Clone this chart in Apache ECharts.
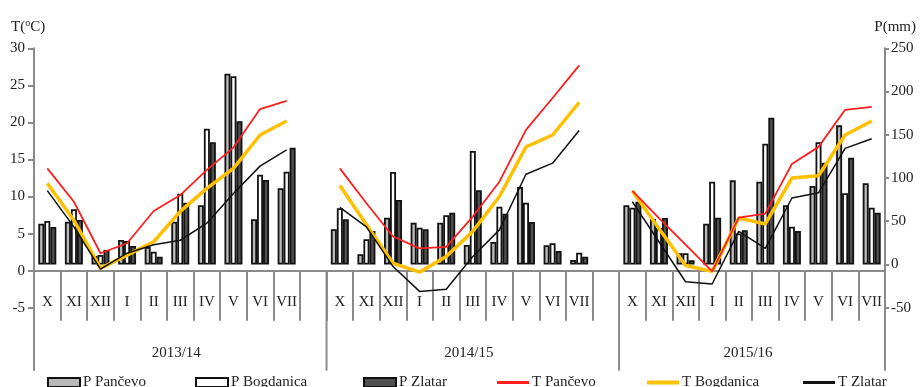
<!DOCTYPE html>
<html>
<head>
<meta charset="utf-8">
<script src="https://cdn.jsdelivr.net/npm/echarts@6/dist/echarts.min.js"></script>
<style>
  html, body { margin: 0; padding: 0; background: #fff; }
  #chart { width: 922px; height: 387px; }
</style>
</head>
<body>
<div id="chart"></div>
<script>
// Months of each hydrological season (October - July); an empty slot separates seasons
const months = ['X', 'XI', 'XII', 'I', 'II', 'III', 'IV', 'V', 'VI', 'VII'];
const categories = [...months, '', ...months, '', ...months];
const seasons = ['2013/14', '2014/15', '2015/16'];

// Monthly precipitation, mm (null = separator slot)
const pPancevo   = [47.2, 49.5, 9.8, 28.3, 20.2, 49.5, 68.4, 220.6, 52.3, 88.1, null,
                    40.7, 11.8, 54.1, 48.3, 48.3, 22.5, 26.0, 89.6, 22.2, 5.2, null,
                    68.4, 52.6, 12.9, 47.2, 97.3, 95.7, 68.4, 90.8, 160.9, 93.9];
const pBogdanica = [50.3, 63.8, 11.0, 27.2, 14.8, 81.8, 157.0, 217.6, 103.8, 107.3, null,
                    65.0, 29.1, 106.9, 42.5, 56.9, 131.2, 66.8, 71.4, 24.5, 13.6, null,
                    65.7, 42.2, 12.9, 95.7, 35.8, 139.7, 43.7, 141.3, 82.3, 65.7];
const pZlatar    = [43.4, 51.4, 16.8, 21.4, 9.0, 71.4, 141.3, 165.5, 97.7, 135.0, null,
                    52.3, 38.7, 74.6, 40.7, 59.9, 85.8, 58.7, 49.1, 15.6, 9.0, null,
                    72.6, 53.8, 4.9, 54.1, 39.5, 169.7, 38.7, 117.7, 123.5, 59.9];

// Mean monthly air temperature, °C
const tPancevo   = [13.8, 9.3, 2.35, 3.7, 8.05, 10.2, 13.6, 16.6, 21.8, 22.9, null,
                    13.8, 9.1, 4.6, 3.0, 3.2, 7.3, 12.0, 19.0, 23.3, 27.7, null,
                    10.75, 7.1, 3.5, -0.1, 7.15, 7.7, 14.4, 16.7, 21.7, 22.1];
const tBogdanica = [11.8, 6.8, 0.3, 2.1, 3.9, 8.0, 11.1, 13.8, 18.3, 20.2, null,
                    11.5, 6.2, 1.0, -0.2, 1.9, 5.3, 10.0, 16.7, 18.3, 22.7, null,
                    10.75, 5.7, 0.7, -0.1, 7.1, 6.3, 12.5, 12.8, 18.3, 20.2];
const tZlatar    = [10.8, 5.9, 0.2, 2.35, 3.5, 4.1, 6.4, 10.4, 14.1, 16.3, null,
                    8.55, 5.9, 0.55, -2.8, -2.5, 1.9, 5.5, 13.0, 14.5, 18.9, null,
                    9.3, 3.9, -1.5, -1.8, 5.3, 3.0, 9.8, 10.5, 16.5, 17.8];

// Axis scales
const tAxis = { min: -5, max: 30, step: 5 };
const pAxis = { min: -50, max: 250, step: 50 };

const FONT = 'Liberation Serif, Times New Roman, serif';
const TEXT = '#222';
const AXIS = '#8a8a8a';

const chart = echarts.init(document.getElementById('chart'), null, { renderer: 'canvas' });

const barStyle = (color) => ({ color: color, borderColor: '#111', borderWidth: 1.8 });

// Legend entries: bar swatches are boxes, temperature entries are short strokes
const legendNames = ['P Pančevo', 'P Bogdanica', 'P Zlatar', 'T Pančevo', 'T Bogdanica', 'T Zlatar'];
const legendLeft = [42, 190, 358, 492, 642, 798];
const legendIconH = [9, 9, 9, 3, 4, 3];

const option = {
  animation: false,
  backgroundColor: '#fff',
  textStyle: { fontFamily: FONT },
  grid: { left: 34, right: 37, top: 48.3, bottom: 79.3, containLabel: false },
  title: [
    {
      text: 'T({sup|o}C)', left: 6, top: 13,
      textStyle: {
        fontFamily: FONT, fontSize: 15, fontWeight: 'normal', color: TEXT, lineHeight: 18,
        rich: { sup: { fontFamily: FONT, fontSize: 10, color: TEXT, lineHeight: 10, verticalAlign: 'top' } }
      }
    },
    {
      text: 'P(mm)', right: 1, top: 13,
      textStyle: { fontFamily: FONT, fontSize: 15, fontWeight: 'normal', color: TEXT, lineHeight: 18 }
    }
  ],
  legend: legendNames.map((name, i) => ({
    data: [{ name: name, icon: 'rect' }], left: legendLeft[i], top: 370,
    itemWidth: 32, itemHeight: legendIconH[i], itemGap: 0,
    textStyle: { fontFamily: FONT, fontSize: 15, color: TEXT, padding: [0, 0, 0, -2] },
    selectedMode: false
  })),
  xAxis: {
    type: 'category',
    data: categories,
    boundaryGap: true,
    axisLine: { show: true, onZero: true, onZeroAxisIndex: 0, lineStyle: { color: AXIS, width: 2 } },
    axisTick: { show: true, interval: 0, length: 50, lineStyle: { color: AXIS, width: 2 } },
    axisLabel: { interval: 0, margin: -13, fontFamily: FONT, fontSize: 15, color: TEXT },
    splitLine: { show: false }
  },
  yAxis: [
    {
      type: 'value', position: 'left',
      min: tAxis.min, max: tAxis.max, interval: tAxis.step,
      axisLine: { show: true, lineStyle: { color: AXIS, width: 2 } },
      axisTick: { show: true, length: 6, lineStyle: { color: AXIS, width: 2 } },
      axisLabel: { margin: 9, fontFamily: FONT, fontSize: 15, color: TEXT },
      splitLine: { show: false }
    },
    {
      type: 'value', position: 'right',
      min: pAxis.min, max: pAxis.max, interval: pAxis.step,
      axisLine: { show: true, lineStyle: { color: AXIS, width: 2 } },
      axisTick: { show: true, length: 4, lineStyle: { color: AXIS, width: 2 } },
      axisLabel: { margin: 6, fontFamily: FONT, fontSize: 15, color: TEXT },
      splitLine: { show: false }
    }
  ],
  series: [
    { name: 'P Pančevo', type: 'bar', yAxisIndex: 1, data: pPancevo, barWidth: 6, barGap: '0%', itemStyle: barStyle('#b9b9b9'), z: 2 },
    { name: 'P Bogdanica', type: 'bar', yAxisIndex: 1, data: pBogdanica, barWidth: 6, barGap: '0%', itemStyle: barStyle('#ffffff'), z: 2 },
    { name: 'P Zlatar', type: 'bar', yAxisIndex: 1, data: pZlatar, barWidth: 6, barGap: '0%', itemStyle: barStyle('#505050'), z: 2 },
    { name: 'T Pančevo', type: 'line', yAxisIndex: 0, data: tPancevo, symbol: 'none', connectNulls: false,
      lineStyle: { color: '#ff1e1e', width: 1.8 }, itemStyle: { color: '#ff1e1e' }, z: 5 },
    { name: 'T Bogdanica', type: 'line', yAxisIndex: 0, data: tBogdanica, symbol: 'none', connectNulls: false,
      lineStyle: { color: '#ffc000', width: 3.5 }, itemStyle: { color: '#ffc000' }, z: 4 },
    { name: 'T Zlatar', type: 'line', yAxisIndex: 0, data: tZlatar, symbol: 'none', connectNulls: false,
      lineStyle: { color: '#111111', width: 1.5 }, itemStyle: { color: '#111111' }, z: 6 }
  ]
};

chart.setOption(option);

// Season level of the category axis: long separators, season names and axis extensions
function seasonFrame() {
  const c0 = chart.convertToPixel({ xAxisIndex: 0 }, 0);
  const c1 = chart.convertToPixel({ xAxisIndex: 0 }, 1);
  const band = c1 - c0;
  const edge = (i) => c0 - band / 2 + i * band;
  const yZero = chart.convertToPixel({ yAxisIndex: 0 }, 0);
  const yLow = chart.convertToPixel({ yAxisIndex: 0 }, tAxis.min);
  const yEnd = yZero + 100;

  // season boundaries: a season ends after its blank slot
  const starts = [0];
  categories.forEach((c, i) => { if (c === '' && i + 1 < categories.length) starts.push(i + 1); });
  const ends = starts.slice(1).concat([categories.length]);

  const elements = [];
  const line = (x, y1, y2) => ({
    type: 'line', silent: true,
    shape: { x1: x, y1: y1, x2: x, y2: y2 },
    style: { stroke: AXIS, lineWidth: 2 }
  });
  elements.push(line(edge(0), yLow, yEnd));
  elements.push(line(edge(categories.length), yLow, yEnd));
  starts.slice(1).forEach((s) => elements.push(line(edge(s), yZero, yEnd)));
  seasons.forEach((name, k) => {
    elements.push({
      type: 'text', silent: true,
      x: (edge(starts[k]) + edge(ends[k])) / 2 - 4, y: yZero + 82,
      style: { text: name, fontFamily: FONT, fontSize: 15, fill: TEXT, align: 'center', verticalAlign: 'middle' }
    });
  });
  chart.setOption({ graphic: elements });
}
seasonFrame();
</script>
</body>
</html>
